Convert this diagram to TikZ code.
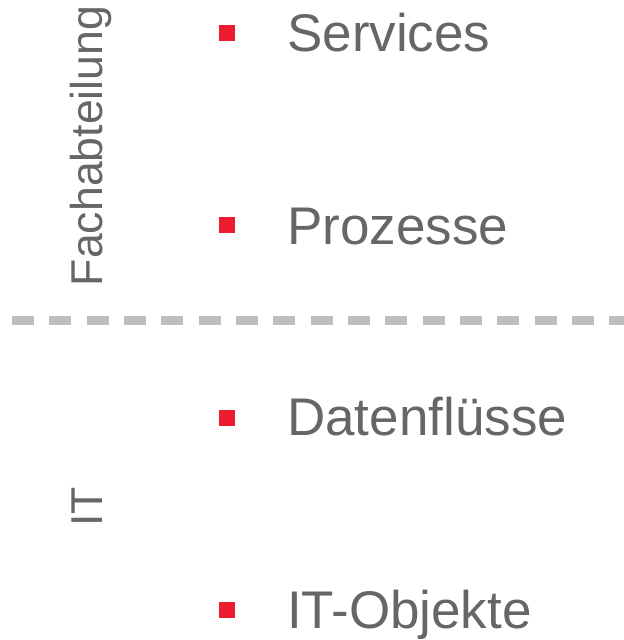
\documentclass[tikz,border=0pt]{standalone}
\usepackage{fontspec}
\setmainfont{Liberation Sans}
\usepackage{xcolor}
\definecolor{txtgray}{RGB}{102,102,102}
\definecolor{bulletred}{RGB}{237,28,46}
\definecolor{sepgray}{RGB}{190,190,190}
\usetikzlibrary{positioning}

\begin{document}
\begin{tikzpicture}[
  x=1bp,y=-1bp,
  bullet/.style={fill=bulletred,inner sep=0pt,minimum size=16bp},
  item/.style={anchor=base west,inner sep=0pt,text=txtgray,
    font=\fontsize{53bp}{60bp}\selectfont},
  side/.style={anchor=base,rotate=90,inner sep=0pt,text=txtgray,
    font=\fontsize{44.6bp}{52bp}\selectfont}
]
  \useasboundingbox (0,0) rectangle (624,640);
  % Fachabteilung
  \node[side] (fach) at (102,146) {Fachabteilung};
  \node[bullet] (b1) at (227,33) {};
  \node[item] (services) at (287,52) {Services};
  \node[bullet] (b2) at (227,225) {};
  \node[item] (prozesse) at (287,244) {Prozesse};
  % separator
  \coordinate (sepL) at (0,320);
  \coordinate (sepR) at (624,320);
  \draw[sepgray,line width=9bp,dash pattern=on 22bp off 15.33bp,
    dash phase=25.33bp] (sepL) -- (sepR);
  % IT
  \node[side] (it) at (102,507) {IT};
  \node[bullet] (b3) at (227,418) {};
  \node[item] (daten) at (287,435) {Datenflüsse};
  \node[bullet] (b4) at (227,610) {};
  \node[item] (objekte) at (287,628) {IT-Objekte};
\end{tikzpicture}
\end{document}
